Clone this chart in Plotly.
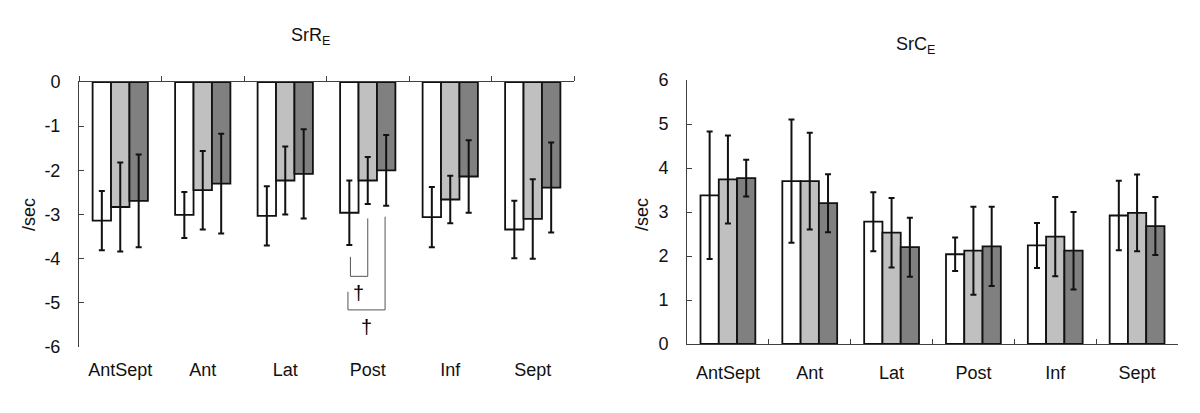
import plotly.graph_objects as go

# ---------------- data ----------------
categories = ["AntSept", "Ant", "Lat", "Post", "Inf", "Sept"]
series_names = ["Group 1", "Group 2", "Group 3"]
bar_colors = ["#ffffff", "#c0c0c0", "#808080"]

# SrR_E (/sec), mean and SD for each group
srr_g1 = [-3.14, -3.01, -3.03, -2.96, -3.06, -3.34]
srr_g2 = [-2.83, -2.45, -2.23, -2.23, -2.66, -3.10]
srr_g3 = [-2.69, -2.30, -2.08, -2.00, -2.14, -2.39]
srr_sd1 = [0.67, 0.52, 0.67, 0.73, 0.68, 0.65]
srr_sd2 = [1.01, 0.89, 0.77, 0.53, 0.54, 0.90]
srr_sd3 = [1.05, 1.13, 1.01, 0.80, 0.82, 1.02]

# SrC_E (/sec), mean and SD for each group
src_g1 = [3.38, 3.70, 2.78, 2.04, 2.24, 2.92]
src_g2 = [3.74, 3.70, 2.53, 2.12, 2.44, 2.98]
src_g3 = [3.77, 3.20, 2.20, 2.22, 2.12, 2.68]
src_sd1 = [1.45, 1.40, 0.67, 0.38, 0.51, 0.79]
src_sd2 = [1.00, 1.10, 0.79, 1.00, 0.90, 0.87]
src_sd3 = [0.42, 0.66, 0.67, 0.90, 0.88, 0.66]

left_ticks = [0, -1, -2, -3, -4, -5, -6]
left_tick_text = ["0", "-1", "-2", "-3", "-4", "-5", "-6"]
right_ticks = [0, 1, 2, 3, 4, 5, 6]
right_tick_text = ["0", "1", "2", "3", "4", "5", "6"]

# significance brackets on SrR_E "Post": (category, left offset, right offset,
#  left top, right top, bottom, dagger x offset, dagger y)
brackets = [
    ("Post", -0.21, 0.00, -3.96, -3.09, -4.40, -0.11, -4.78),
    ("Post", -0.24, 0.21, -4.75, -3.05, -5.16, -0.01, -5.55),
]

FONT = "Liberation Sans, Arial, sans-serif"
TXT = "#111111"
AX = "#404040"

fig = go.Figure()

left = [(srr_g1, srr_sd1), (srr_g2, srr_sd2), (srr_g3, srr_sd3)]
right = [(src_g1, src_sd1), (src_g2, src_sd2), (src_g3, src_sd3)]

for (vals, sd), name, col in zip(left, series_names, bar_colors):
    fig.add_trace(go.Bar(
        x=categories, y=vals, name=name, showlegend=False,
        marker=dict(color=col, line=dict(color="#111111", width=1.8)),
        error_y=dict(type="data", array=sd, visible=True, color="#111111",
                     thickness=2, width=3),
        xaxis="x", yaxis="y"))

for (vals, sd), name, col in zip(right, series_names, bar_colors):
    fig.add_trace(go.Bar(
        x=categories, y=vals, name=name, showlegend=False,
        marker=dict(color=col, line=dict(color="#111111", width=1.8)),
        error_y=dict(type="data", array=sd, visible=True, color="#111111",
                     thickness=2, width=3),
        xaxis="x2", yaxis="y2"))

W, H = 1200, 413
xl = [79 / W, 574 / W]
xr = [687 / W, 1178 / W]
yl = [1 - 347 / H, 1 - 82 / H]
yr = [1 - 344 / H, 1 - 80 / H]

n = len(categories)
boundaries = [i - 0.5 for i in range(n + 1)]

fig.update_layout(
    width=W, height=H,
    margin=dict(l=0, r=0, t=0, b=0, pad=0),
    paper_bgcolor="white", plot_bgcolor="white",
    barmode="group", bargap=0.33, bargroupgap=0,
    font=dict(family=FONT, size=18, color=TXT),
    xaxis=dict(domain=xl, anchor="y", type="category", range=[-0.5, n - 0.5],
               showline=False, ticks="", showgrid=False, zeroline=False,
               automargin=False,
               tickfont=dict(size=18, color=TXT), ticklabelstandoff=10),
    xaxis3=dict(overlaying="x", side="top", anchor="y", range=[-0.5, n - 0.5],
                tickmode="array", tickvals=boundaries, ticks="outside",
                ticklen=5, tickcolor=AX, showticklabels=False,
                showline=True, linecolor=AX, linewidth=1, automargin=False,
                showgrid=False, zeroline=False),
    yaxis=dict(domain=yl, anchor="x", range=[-6, 0], tickmode="array",
               tickvals=left_ticks, ticktext=left_tick_text,
               ticks="inside", ticklen=5, tickcolor=AX, showline=True,
               linecolor=AX, linewidth=1, showgrid=False, zeroline=False,
               automargin=False,
               tickfont=dict(size=18, color=TXT), ticklabelstandoff=14),
    xaxis2=dict(domain=xr, anchor="y2", type="category", range=[-0.5, n - 0.5],
                showline=True, linecolor=AX, linewidth=1, ticks="inside",
                tickson="boundaries", ticklen=5, tickcolor=AX,
                showgrid=False, zeroline=False, automargin=False,
                tickfont=dict(size=18, color=TXT), ticklabelstandoff=12),
    yaxis2=dict(domain=yr, anchor="x2", range=[0, 6], tickmode="array",
                tickvals=right_ticks, ticktext=right_tick_text,
                ticks="inside", ticklen=5, tickcolor=AX, showline=True,
                linecolor=AX, linewidth=1, showgrid=False, zeroline=False,
                automargin=False,
                tickfont=dict(size=18, color=TXT), ticklabelstandoff=14),
)

# invisible trace so the overlaying top axis is drawn
fig.add_trace(go.Scatter(x=[0], y=[0], xaxis="x3", yaxis="y", mode="markers",
                         marker=dict(opacity=0), showlegend=False,
                         hoverinfo="skip"))

# titles
fig.add_annotation(text="SrR<sub>E</sub>", xref="paper", yref="paper",
                   x=310 / W, y=1 - 36 / H, showarrow=False,
                   font=dict(size=18, color=TXT), xanchor="center", yanchor="middle")
fig.add_annotation(text="SrC<sub>E</sub>", xref="paper", yref="paper",
                   x=915 / W, y=1 - 45 / H, showarrow=False,
                   font=dict(size=18, color=TXT), xanchor="center", yanchor="middle")
# y-axis titles
for xp in (29, 642):
    fig.add_annotation(text="/sec", xref="paper", yref="paper",
                       x=xp / W, y=1 - 215 / H, showarrow=False, textangle=-90,
                       font=dict(size=18, color=TXT), xanchor="center", yanchor="middle")

# significance brackets
for cat, lo, ro, ly, ry, by, dx, dy in brackets:
    c = categories.index(cat)
    x0, x1 = c + lo, c + ro
    for (ax0, ay0, ax1, ay1) in [(x0, ly, x0, by), (x0, by, x1, by), (x1, by, x1, ry)]:
        fig.add_shape(type="line", xref="x", yref="y", x0=ax0, y0=ay0,
                      x1=ax1, y1=ay1, line=dict(color="#555555", width=1))
    fig.add_annotation(text="†", xref="x", yref="y", x=c + dx, y=dy,
                       showarrow=False, font=dict(size=20, color="#000000"))

fig.write_html(
    "out.html",
    config={"displayModeBar": False, "staticPlot": True},
    post_script="document.body.style.margin='0';document.body.style.overflow='hidden';",
)
